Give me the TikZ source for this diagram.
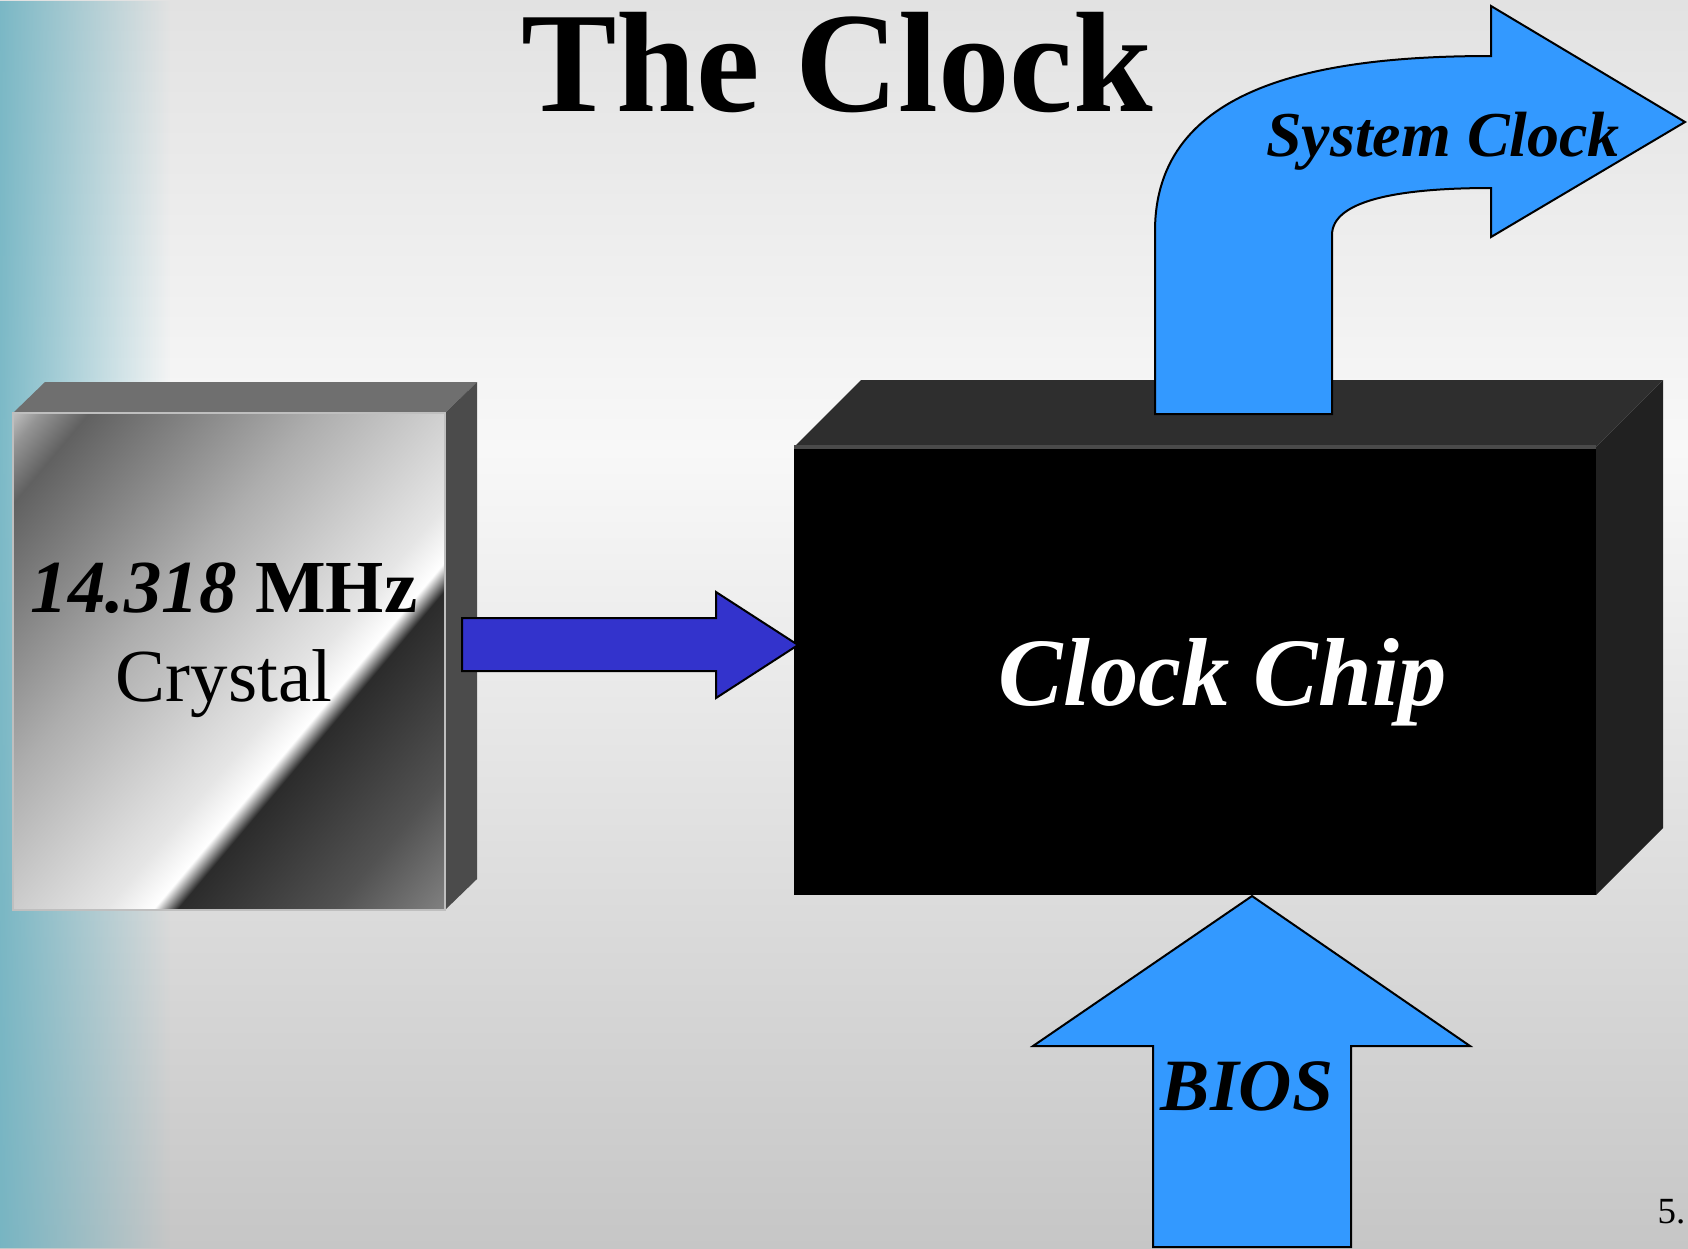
\documentclass[tikz,border=0pt]{standalone}
\usepackage{fontspec}
\setmainfont{Liberation Serif}
\usetikzlibrary{fadings}
\definecolor{bgtop}{HTML}{E2E2E2}
\definecolor{bgmid}{HTML}{F8F8F8}
\definecolor{bgbot}{HTML}{C6C6C6}
\definecolor{reef}{HTML}{6FB3C2}
\definecolor{inblue}{HTML}{3333CC}
\definecolor{skyblue}{HTML}{3399FF}
\definecolor{chiptop}{HTML}{2E2E2E}
\definecolor{chipside}{HTML}{212121}
\definecolor{chipedge}{HTML}{4A4A4A}
\definecolor{xtaltop}{HTML}{6F6F6F}
\definecolor{xtalside}{HTML}{4B4B4B}
\pgfdeclareverticalshading{slidebg}{100bp}{color(0bp)=(bgbot); color(25bp)=(bgbot);
  color(57bp)=(bgmid); color(75bp)=(bgtop); color(100bp)=(bgtop)}
\pgfdeclarehorizontalshading{xtalmetal}{100bp}{color(0bp)=(black!18); color(14bp)=(black!20);
  color(17bp)=(black!42); color(21bp)=(black!62); color(40bp)=(black!32); color(57bp)=(black!10);
  color(61bp)=(white); color(63bp)=(black!83); color(76bp)=(black!68); color(87bp)=(black!46);
  color(100bp)=(black!46)}
\tikzset{
  blockarrow/.style={draw=black, line width=0.2mm, line join=miter},
  titlefont/.style={font=\fontsize{40.7pt}{48pt}\selectfont\bfseries, inner sep=0pt},
  xtalfont/.style={font=\fontsize{21.3pt}{25.4pt}\selectfont, align=center, inner sep=0pt},
  chipfont/.style={font=\fontsize{27.5pt}{32pt}\selectfont\bfseries\itshape, text=white, inner sep=0pt},
  arrowfont/.style={font=\fontsize{18.2pt}{22pt}\selectfont\bfseries\itshape, inner sep=0pt},
  biosfont/.style={font=\fontsize{21pt}{24pt}\selectfont\bfseries\itshape, inner sep=0pt},
}

\begin{document}
\begin{tikzpicture}[x=0.1mm,y=-0.1mm]
  \useasboundingbox (0,0) rectangle (1688,1248);
  % slide background
  \shade[shading=slidebg] (0,0) rectangle (1688,1248);
  \fill[reef, path fading=east, fill opacity=0.9] (0,0) rectangle (170,1248);

  % crystal block
  \fill[xtaltop] (13,413) -- (45,382) -- (477,382) -- (445,413) -- cycle;
  \fill[xtalside] (445,413) -- (477,382) -- (477,879) -- (445,910) -- cycle;
  \shade[shading=xtalmetal, shading angle=-40] (13,413) rectangle (445,910);
  \draw[black!25, line width=0.15mm] (13,413) rectangle (445,910);
  \node[xtalfont] (xtal) at (224,640)
    {{\bfseries\itshape 14.318} {\bfseries MHz}\\Crystal};

  % clock chip block
  \fill[chiptop] (794,447) -- (861,380) -- (1663,380) -- (1596,447) -- cycle;
  \fill[chipside] (1596,447) -- (1663,380) -- (1663,828) -- (1596,895) -- cycle;
  \fill[black] (794,447) rectangle (1596,895);
  \draw[chipedge, line width=0.4mm] (794,447) -- (1596,447);
  \node[chipfont, anchor=base] (chip) at (1223,705) {Clock Chip};

  % crystal feeds the chip
  \draw[blockarrow, fill=inblue] (462,618) -- (716,618) -- (716,592) -- (798,645)
    -- (716,698) -- (716,671) -- (462,671) -- cycle;

  % system clock out of the top
  \draw[blockarrow, fill=skyblue] (1155,414) -- (1155,231)
    .. controls (1155,85) and (1320,56) .. (1491,56) -- (1491,6) -- (1685,122)
    -- (1491,237) -- (1491,188) .. controls (1400,188) and (1332,200) .. (1332,235)
    -- (1332,414) -- cycle;
  \node[arrowfont, anchor=base] (sysclk) at (1443,156) {System Clock};

  % BIOS into the bottom
  \draw[blockarrow, fill=skyblue] (1153,1247) -- (1153,1046) -- (1033,1046) -- (1252,896)
    -- (1470,1046) -- (1351,1046) -- (1351,1247) -- cycle;
  \node[biosfont, anchor=base] (bios) at (1247,1110) {BIOS};

  \node[titlefont, anchor=base] (title) at (837,111) {The Clock};
  \node[font=\fontsize{10.5pt}{12pt}\selectfont, inner sep=0pt, anchor=base east] (pagenum)
    at (1686,1223) {5.};
\end{tikzpicture}
\end{document}
